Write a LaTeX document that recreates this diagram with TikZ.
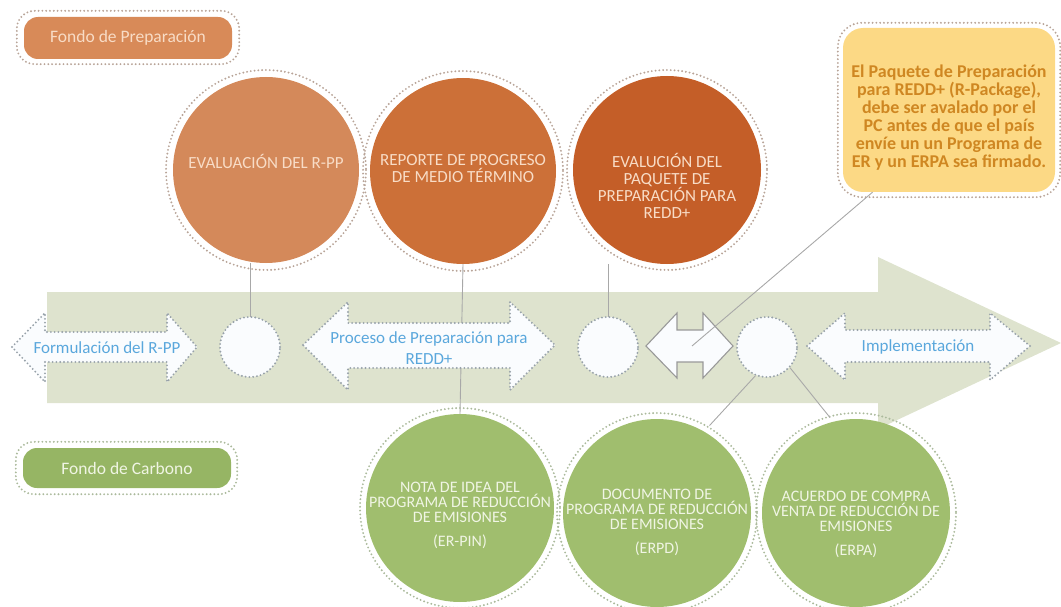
\documentclass[tikz,border=0pt]{standalone}
\usepackage{fontspec}
\setmainfont{Carlito}
\usetikzlibrary{calc}
\definecolor{band}{HTML}{DEE3CE}
\definecolor{oA}{HTML}{D4895A}
\definecolor{oB}{HTML}{CC7038}
\definecolor{oC}{HTML}{C45E28}
\definecolor{oBox}{HTML}{D88A58}
\definecolor{gC}{HTML}{A0BE6E}
\definecolor{gBox}{HTML}{96B564}
\definecolor{yBox}{HTML}{FCD985}
\definecolor{yText}{HTML}{CF8722}
\definecolor{bText}{HTML}{5AA7DC}
\definecolor{oDot}{HTML}{B8A498}
\definecolor{gDot}{HTML}{ABBA9C}
\definecolor{wDot}{HTML}{98A2AA}
\definecolor{lineC}{HTML}{A8A8A8}
\definecolor{wFill}{HTML}{FAFCFE}
\definecolor{oTxt}{HTML}{F8DCC6}
\definecolor{gTxt}{HTML}{F0F5E4}
\tikzset{
  dots/.style={line width=2.1pt, dash pattern=on 0pt off 3.8pt, line cap=round},
  ring/.style={dots, draw=#1},
  bigcirc/.style={circle, minimum size=#1, inner sep=0pt, draw=none},
  ctext/.style={align=center, inner sep=0pt, font=\fontsize{17}{17}\selectfont},
  gtext/.style={align=center, inner sep=0pt, text=gTxt, font=\fontsize{16}{15}\selectfont},
  fbox/.style={rectangle, rounded corners=14pt, minimum width=208pt, minimum height=42pt, inner sep=0pt, font=\fontsize{17.5}{18}\selectfont},
  smallc/.style={circle, minimum size=60pt, inner sep=0pt, fill=wFill, dots, draw=wDot},
  warrow/.style={fill=wFill, draw=wDot, dots, line join=round},
  btext/.style={text=bText, align=center, inner sep=0pt, font=\fontsize{17}{21}\selectfont},
  conn/.style={draw=lineC, line width=0.9pt}
}
\begin{document}
\begin{tikzpicture}[x=1pt,y=-1pt]
\useasboundingbox (0,0) rectangle (1061,607);

% big band arrow
\fill[band] (47,292) -- (878,292) -- (878,257) -- (1061,343) -- (878,429) -- (878,403) -- (47,403) -- cycle;

% big circles
\node[bigcirc=186pt, fill=oA] (O1) at (266,170) {};
\node[bigcirc=186pt, fill=oB] (O2) at (463,171) {};
\node[bigcirc=188pt, fill=oC] (O3) at (667,170) {};
\node[bigcirc=188pt, fill=gC] (G1) at (460,508) {};
\node[bigcirc=188pt, fill=gC] (G2) at (657,513) {};
\node[bigcirc=188pt, fill=gC] (G3) at (856,513) {};

\coordinate (A) at (250,347);
\coordinate (B) at (608,347);
\coordinate (C) at (767,347);

% connectors behind nodes
\draw[conn] (A) -- (A |- O1.south);
\draw[conn] (O2.south) -- (G1.north);
\draw[conn] (B) -- (B |- O3.south);

% rings
\foreach \n in {O1,O2,O3} \draw[ring=oDot] (\n.center) circle (100);
\foreach \n in {G1,G2,G3} \draw[ring=gDot] (\n.center) circle (100);

% circle texts
\node[ctext, text=oTxt] (O1t) at (266,161) {EVALUACIÓN DEL R-PP};
\node[ctext, text=oTxt] (O2t) at (463,169) {REPORTE DE PROGRESO\\DE MEDIO TÉRMINO};
\node[ctext, text=oTxt] (O3t) at (667,186) {EVALUCIÓN DEL\\PAQUETE DE\\PREPARACIÓN PARA\\REDD+};
\node[gtext] (G1t) at (460,515) {NOTA DE IDEA DEL\\PROGRAMA DE REDUCCIÓN\\DE EMISIONES\\[9pt](ER-PIN)};
\node[gtext] (G2t) at (657,522) {DOCUMENTO DE\\PROGRAMA DE REDUCCIÓN\\DE EMISIONES\\[9pt](ERPD)};
\node[gtext] (G3t) at (856,524) {ACUERDO DE COMPRA\\VENTA DE REDUCCIÓN DE\\EMISIONES\\[9pt](ERPA)};

% white double arrows
\draw[warrow] (12,347) -- (45,313) -- (45,332) -- (167,332) -- (167,313) -- (197,347) -- (167,382) -- (167,362) -- (45,362) -- (45,382) -- cycle;
\node[btext] (F) at (107,348) {Formulación del R-PP};

\draw[warrow] (303,345) -- (348,302) -- (348,323) -- (510,323) -- (510,302) -- (555,345) -- (510,390) -- (510,368) -- (348,368) -- (348,390) -- cycle;
\node[btext] (P) at (429,348) {Proceso de Preparación para\\REDD+};

\draw[warrow] (807,346) -- (845,313) -- (845,330) -- (990,330) -- (990,313) -- (1030,346) -- (990,380) -- (990,362) -- (845,362) -- (845,380) -- cycle;
\node[btext] (I) at (918,347) {Implementación};

\draw[fill=wFill, draw=gray!80, line width=1.1pt, line join=miter] (646,346) -- (677,313) -- (677,330) -- (703,330) -- (703,313) -- (733,346) -- (703,378) -- (703,362) -- (677,362) -- (677,378) -- cycle;
\coordinate (D) at (692,346);

% small circles
\node[smallc] (SA) at (A) {};
\node[smallc] (SB) at (B) {};
\node[smallc] (SC) at (C) {};

% lines from small circle C to green circles
\draw[conn, shorten >=8pt] (SC.248) -- (G2.60);
\draw[conn, shorten >=5pt] (SC.318) -- (G3.104);

% legend boxes
\node[fbox, fill=oBox, text=oTxt] (FP) at (128,38) {Fondo de Preparación};
\draw[ring=oDot, rounded corners=18pt] ([shift={(-7pt,-5pt)}]FP.south west) rectangle ([shift={(7pt,6pt)}]FP.north east);
\node[fbox, fill=gBox, minimum height=40pt, text=gTxt] (FC) at (127,468) {Fondo de Carbono};
\draw[ring=gDot, rounded corners=18pt] ([shift={(-7pt,-6pt)}]FC.south west) rectangle ([shift={(6pt,6pt)}]FC.north east);

% note box
\node[rectangle, rounded corners=20pt, fill=yBox, minimum width=212pt, minimum height=164pt, inner sep=0pt] (N) at (949,110) {};
\node[text=yText, align=center, inner sep=0pt, font=\bfseries\fontsize{18}{18}\selectfont] (Nt) at (949,118) {El Paquete de Preparación\\para REDD+ (R-Package),\\debe ser avalado por el\\PC antes de que el país\\envíe un un Programa de\\ER y un ERPA sea firmado.};
\draw[ring=oDot, rounded corners=24pt] ([shift={(-5pt,-5pt)}]N.south west) rectangle ([shift={(5pt,5pt)}]N.north east);
\draw[conn] ($(N.south west)!0.14!(N.south east)$) -- (D);
\end{tikzpicture}
\end{document}
